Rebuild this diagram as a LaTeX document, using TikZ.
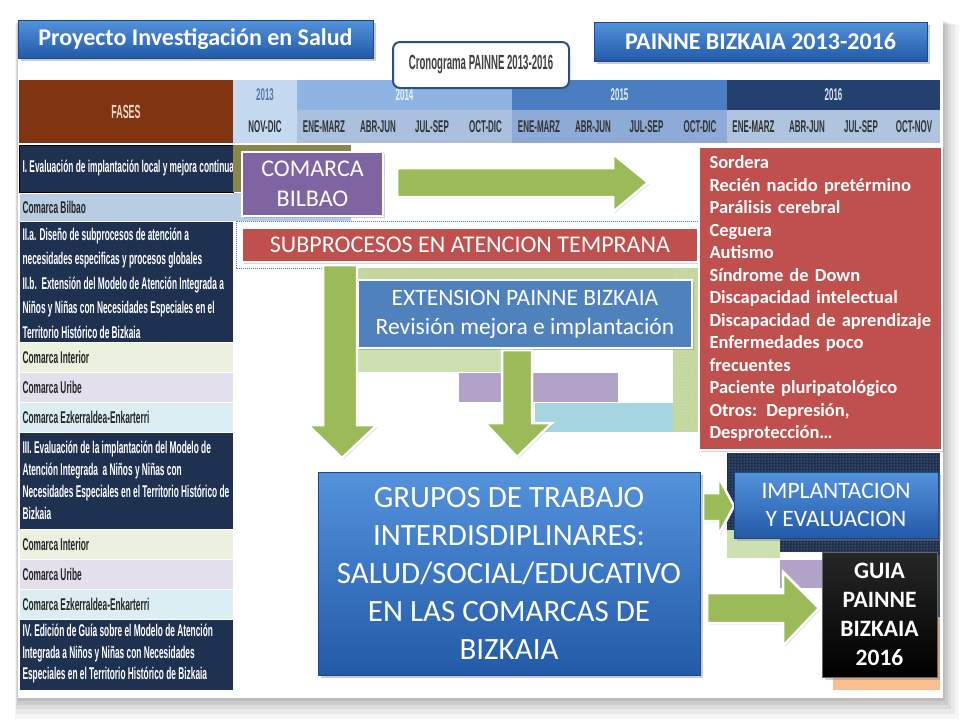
\documentclass[tikz,border=0pt]{standalone}
\usepackage{fontspec}
\setmainfont{Carlito}
\newfontfamily\headfont[FakeStretch=0.47]{Liberation Sans}
\newfontfamily\rowfont[FakeStretch=0.49]{Liberation Sans}
\usetikzlibrary{shadows,patterns}
\definecolor{fasebrown}{RGB}{128,52,18}
\definecolor{fasetext}{RGB}{240,215,200}
\definecolor{rownavy}{RGB}{30,49,80}
\definecolor{rowdark}{RGB}{38,38,38}
\definecolor{bilbaoblue}{RGB}{184,204,228}
\definecolor{interiorgreen}{RGB}{235,241,222}
\definecolor{uribelila}{RGB}{228,223,236}
\definecolor{ezkcyan}{RGB}{218,238,243}
\definecolor{year13}{RGB}{197,217,241}
\definecolor{year13text}{RGB}{90,120,170}
\definecolor{year14}{RGB}{141,180,226}
\definecolor{year15}{RGB}{74,126,193}
\definecolor{year16}{RGB}{36,64,110}
\definecolor{quarter14}{RGB}{170,192,222}
\definecolor{quarter15}{RGB}{142,170,214}
\definecolor{quarter16}{RGB}{176,196,224}
\definecolor{quartertext}{RGB}{50,50,50}
\definecolor{barolive}{RGB}{138,134,72}
\definecolor{bargreen}{RGB}{195,214,155}
\definecolor{barlightgreen}{RGB}{205,224,178}
\definecolor{barlila}{RGB}{179,162,199}
\definecolor{barcyan}{RGB}{165,213,224}
\definecolor{barorange}{RGB}{250,191,143}
\definecolor{arrowgreen}{RGB}{155,187,89}
\definecolor{boxpurple}{RGB}{128,100,162}
\definecolor{boxred}{RGB}{192,80,77}
\definecolor{boxblue}{RGB}{79,129,189}
\definecolor{geltop}{RGB}{84,146,220}
\definecolor{gelbottom}{RGB}{34,90,168}
\definecolor{cronoline}{RGB}{47,79,127}
\definecolor{cronotext}{RGB}{64,64,64}
\tikzset{
    headtext/.style={font=\headfont\bfseries\fontsize{17}{19}\selectfont, text=quartertext},
    rowtext/.style={anchor=west, align=left, font=\rowfont\bfseries\fontsize{17}{22}\selectfont},
    slidebox/.style={draw=white, line width=2.5pt, drop shadow={shadow xshift=2pt, shadow yshift=-2pt, opacity=.35}},
    gelbox/.style={top color=geltop, bottom color=gelbottom, draw=gelbottom!80!black, line width=.8pt, drop shadow={shadow xshift=2.5pt, shadow yshift=-2.5pt, opacity=.4}},
    boxtext/.style={text=white, align=center, font=\fontsize{24}{30}\selectfont},
    titletext/.style={text=white, font=\bfseries\fontsize{24}{26}\selectfont},
    listtext/.style={text=white, align=left, text width=222pt, font=\bfseries\fontsize{18.5}{22.5}\selectfont},
    blockarrow/.style={fill=arrowgreen, draw=white, line width=2.5pt, drop shadow={shadow xshift=1.5pt, shadow yshift=-1.5pt, opacity=.25}}
}
\begin{document}
\begin{tikzpicture}[x=1pt, y=-1pt]
    \useasboundingbox (0,0) rectangle (960,720);
    \fill[black, opacity=.04] (15,25) rectangle (959,719);
    \fill[black, opacity=.05] (16,24) rectangle (955,714);
    \fill[black, opacity=.06] (16,23) rectangle (951,709);
    \fill[black, opacity=.07] (17,22) rectangle (948,705);
    \fill[black, opacity=.08] (18,21) rectangle (945,701);
    \fill[white] (18,18) rectangle (943,698);

    \fill[fasebrown] (19,80) rectangle (233,143) node[pos=.5, headtext, text=fasetext, font=\headfont\bfseries\fontsize{19}{20}\selectfont] (fases) {FASES};
    \fill[year13] (233,80) rectangle (297,110) node[pos=.5, headtext, text=year13text] (y2013) {2013};
    \fill[year14] (297,80) rectangle (512,110) node[pos=.5, headtext, text=white!80!year14] (y2014) {2014};
    \fill[year15] (512,80) rectangle (727,110) node[pos=.5, headtext, text=white!85!year15] (y2015) {2015};
    \fill[year16] (727,80) rectangle (940,110) node[pos=.5, headtext, text=white!85!year16] (y2016) {2016};
    \fill[year13] (233,110) rectangle (297,143) node[pos=.5, headtext] (q13d) {NOV-DIC};
    \fill[quarter14] (297,110) rectangle (351,143) node[pos=.5, headtext] (q14a) {ENE-MARZ};
    \fill[quarter14] (351,110) rectangle (405,143) node[pos=.5, headtext] (q14b) {ABR-JUN};
    \fill[quarter14] (405,110) rectangle (459,143) node[pos=.5, headtext] (q14c) {JUL-SEP};
    \fill[quarter14] (459,110) rectangle (512,143) node[pos=.5, headtext] (q14d) {OCT-DIC};
    \fill[quarter15] (512,110) rectangle (566,143) node[pos=.5, headtext] (q15a) {ENE-MARZ};
    \fill[quarter15] (566,110) rectangle (620,143) node[pos=.5, headtext] (q15b) {ABR-JUN};
    \fill[quarter15] (620,110) rectangle (673,143) node[pos=.5, headtext] (q15c) {JUL-SEP};
    \fill[quarter15] (673,110) rectangle (727,143) node[pos=.5, headtext] (q15d) {OCT-DIC};
    \fill[quarter16] (727,110) rectangle (780,143) node[pos=.5, headtext] (q16a) {ENE-MARZ};
    \fill[quarter16] (780,110) rectangle (834,143) node[pos=.5, headtext] (q16b) {ABR-JUN};
    \fill[quarter16] (834,110) rectangle (888,143) node[pos=.5, headtext] (q16c) {JUL-SEP};
    \fill[quarter16] (888,110) rectangle (940,143) node[pos=.5, headtext] (q16d) {OCT-NOV};

    \filldraw[fill=rownavy, draw=black] (19,145) rectangle (233,192);
    \node[rowtext, text=white] (fase1) at (19,168.5) {I. Evaluación de implantación local y mejora continua};
    \filldraw[fill=bilbaoblue, draw=white] (19,193) rectangle (233,221);
    \node[rowtext, text=rowdark] (bilbao1) at (19,207) {Comarca Bilbao};
    \filldraw[fill=rownavy, draw=white] (19,221) rectangle (233,342);
    \node[rowtext, text=white, font=\rowfont\bfseries\fontsize{17}{24.5}\selectfont] (fase2) at (19,283) {II.a. Diseño de subprocesos de atención a\\necesidades especificas y procesos globales\\II.b.\ \ Extensión del Modelo de Atención Integrada a\\Niños y Niñas con Necesidades Especiales en el\\Territorio Histórico de Bizkaia};
    \filldraw[fill=interiorgreen, draw=white] (19,342) rectangle (233,372);
    \node[rowtext, text=rowdark] (interior2) at (19,357) {Comarca Interior};
    \filldraw[fill=uribelila, draw=white] (19,372) rectangle (233,402);
    \node[rowtext, text=rowdark] (uribe2) at (19,387) {Comarca Uribe};
    \filldraw[fill=ezkcyan, draw=white] (19,402) rectangle (233,432);
    \node[rowtext, text=rowdark] (ezk2) at (19,417) {Comarca Ezkerraldea-Enkarterri};
    \filldraw[fill=rownavy, draw=white] (19,432) rectangle (233,529);
    \node[rowtext, text=white] (fase3) at (19,480) {III. Evaluación de la implantación del Modelo de\\Atención Integrada\ \ a Niños y Niñas con\\Necesidades Especiales en el Territorio Histórico de\\Bizkaia};
    \filldraw[fill=interiorgreen, draw=white] (19,529) rectangle (233,559);
    \node[rowtext, text=rowdark] (interior3) at (19,544) {Comarca Interior};
    \filldraw[fill=uribelila, draw=white] (19,559) rectangle (233,589);
    \node[rowtext, text=rowdark] (uribe3) at (19,574) {Comarca Uribe};
    \filldraw[fill=ezkcyan, draw=white] (19,589) rectangle (233,619);
    \node[rowtext, text=rowdark] (ezk3) at (19,604) {Comarca Ezkerraldea-Enkarterri};
    \filldraw[fill=rownavy, draw=white] (19,619) rectangle (233,690);
    \node[rowtext, text=white, font=\rowfont\bfseries\fontsize{17}{21.5}\selectfont] (fase4) at (19,654) {IV. Edición de Guía sobre el Modelo de Atención\\Integrada a Niños y Niñas con Necesidades\\Especiales en el Territorio Histórico de Bizkaia};

    \fill[barolive] (233,145) rectangle (351,192);
    \fill[bilbaoblue] (233,193) rectangle (351,221);
    \draw[densely dotted, year15, line width=1pt] (236,221) rectangle (700,268);
    \fill[bargreen] (358,268) rectangle (700,350);
    \fill[bargreen] (673,350) rectangle (700,432);
    \fill[pattern=dots, pattern color=white!60!bargreen] (673,268) rectangle (700,432);
    \fill[barlightgreen] (358,350) rectangle (512,372);
    \fill[barlila] (459,373) rectangle (618,402);
    \fill[barcyan] (535,403) rectangle (673,432);
    \fill[rownavy] (727,453) rectangle (940,552);
    \fill[pattern=dots, pattern color=white!55!rownavy] (727,453) rectangle (940,552);
    \fill[barlightgreen] (727,530) rectangle (780,558);
    \fill[barlila] (780,560) rectangle (835,588);
    \fill[rownavy] (935,552) rectangle (940,617);
    \fill[barorange] (833,617) rectangle (940,690);

    \filldraw[fill=white, draw=cronoline, line width=2pt, rounded corners=7pt] (393,42) rectangle (569,88) node[pos=.5, text=cronotext, font=\headfont\bfseries\fontsize{20.5}{22}\selectfont] (crono) {Cronograma PAINNE 2013-2016};
    \filldraw[gelbox] (18,20) rectangle (373,58) node[pos=.5, titletext] (proyecto) {Proyecto Investigación en Salud};
    \filldraw[gelbox] (594,22) rectangle (927,61) node[pos=.5, titletext] (painne) {PAINNE BIZKAIA 2013-2016};

    \filldraw[blockarrow] (397,168) -- (613,168) -- (613,154) -- (648,182.5) -- (613,212) -- (613,197) -- (397,197) -- cycle;
    \filldraw[blockarrow] (323,265) -- (357,265) -- (357,425) -- (377,425) -- (342,458) -- (308,425) -- (323,425) -- cycle;
    \filldraw[blockarrow] (502,350) -- (532,350) -- (532,423) -- (552,423) -- (517,457) -- (485,423) -- (502,423) -- cycle;
    \filldraw[blockarrow] (703,493) -- (718,493) -- (718,476) -- (734,506) -- (718,536) -- (718,521) -- (703,521) -- cycle;
    \filldraw[blockarrow] (707,593) -- (783,593) -- (783,572) -- (819,608) -- (783,646) -- (783,623) -- (707,623) -- cycle;

    \filldraw[fill=boxpurple, slidebox] (242,152) rectangle (383,216) node[pos=.5, boxtext] (comarca) {COMARCA\\BILBAO};
    \filldraw[fill=boxred, slidebox] (242,228) rectangle (698,262) node[pos=.5, boxtext] (subprocesos) {SUBPROCESOS EN ATENCION TEMPRANA};
    \filldraw[fill=boxblue, slidebox] (358,280) rectangle (692,348) node[pos=.5, boxtext, font=\fontsize{23.5}{29}\selectfont] (extension) {EXTENSION PAINNE BIZKAIA\\Revisión mejora e implantación};
    \filldraw[fill=boxred, slidebox] (699,147) rectangle (942,450) node[pos=.5, listtext] (patologias) {Sordera\\Recién nacido pretérmino\\Parálisis cerebral\\Ceguera\\Autismo\\Síndrome de Down\\Discapacidad intelectual\\Discapacidad de aprendizaje\\Enfermedades poco\\frecuentes\\Paciente pluripatológico\\Otros: Depresión,\\Desprotección…};
    \filldraw[gelbox] (318,472) rectangle (700,675) node[pos=.5, boxtext, font=\fontsize{31}{38}\selectfont] (grupos) {GRUPOS DE TRABAJO\\INTERDISDIPLINARES:\\SALUD/SOCIAL/EDUCATIVO\\EN LAS COMARCAS DE\\BIZKAIA};
    \filldraw[gelbox] (734,472) rectangle (938,538) node[pos=.5, boxtext, font=\fontsize{23.5}{28}\selectfont] (implantacion) {IMPLANTACION\\Y EVALUACION};
    \filldraw[top color=black!85, bottom color=black, draw=black!60, line width=.8pt, drop shadow={shadow xshift=2.5pt, shadow yshift=-2.5pt, opacity=.4}] (822,552) rectangle (937,677) node[pos=.5, boxtext, font=\bfseries\fontsize{23.5}{29}\selectfont] (guia) {GUIA\\PAINNE\\BIZKAIA\\2016};
\end{tikzpicture}
\end{document}
